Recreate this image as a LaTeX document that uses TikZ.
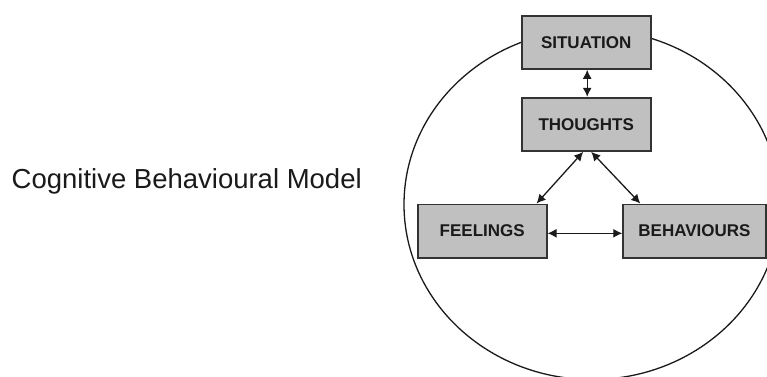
\documentclass[tikz,border=0pt]{standalone}
\usepackage{fontspec}
\setmainfont{Liberation Sans}
\usetikzlibrary{arrows.meta}
\definecolor{boxfill}{HTML}{C0C0C0}
\definecolor{boxline}{HTML}{333333}
\definecolor{inkc}{HTML}{1A1A1A}
\tikzset{
  cbox/.style={draw=boxline, fill=boxfill, line width=1.7pt, minimum width=129pt,
    minimum height=53.3pt, inner sep=0pt, text=inkc,
    font=\fontsize{17}{20}\selectfont\bfseries},
  conn/.style={draw=inkc, line width=1.3pt, {Latex[length=9pt,width=9pt]}-{Latex[length=9pt,width=9pt]}},
}
\begin{document}
\begin{tikzpicture}[x=1pt,y=-1pt]
\useasboundingbox (0,0) rectangle (767,376);
\fill[white] (0,0) rectangle (767,376);
\begin{scope}
\clip (0,0) rectangle (767,376);
\draw[draw=inkc, line width=1.3pt] (592,204.5) ellipse [x radius=188pt, y radius=175pt];
\end{scope}
\node[anchor=base west, inner sep=0pt, text=inkc, font=\fontsize{27.5}{32}\selectfont] (title) at (11.5,188) {Cognitive Behavioural Model};
\node[cbox] (sit) at (586.2,42.3) {SITUATION};
\node[cbox] (th) at (586.2,124.3) {THOUGHTS};
\node[cbox] (fe) at (482.2,231) {FEELINGS};
\node[cbox, minimum width=142.7pt] (be) at (694.5,231) {BEHAVIOURS};
\draw[conn] ([xshift=1pt]sit.south) -- ([xshift=1pt]th.north);
\draw[conn] ([xshift=-3pt]th.south) -- ([xshift=-11pt]fe.north east);
\draw[conn] ([xshift=5pt]th.south) -- ([xshift=18pt]be.north west);
\draw[conn] ([yshift=-2.3pt]fe.east) -- ([yshift=-2.3pt]be.west);
\end{tikzpicture}
\end{document}
